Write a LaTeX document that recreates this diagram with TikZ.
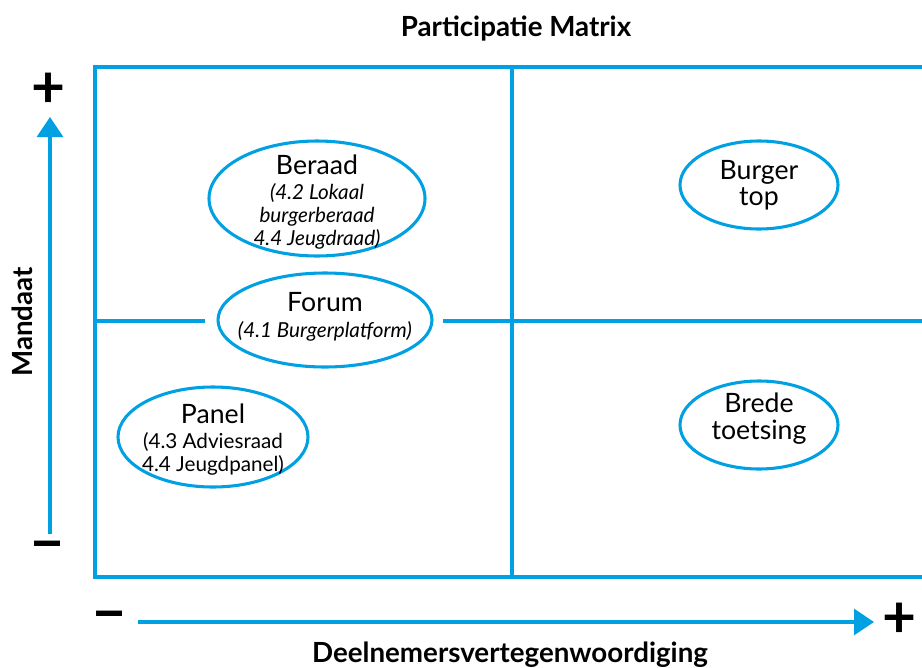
\documentclass[tikz,border=0pt]{standalone}
\usepackage{fontspec}
\setmainfont{Lato}
\usetikzlibrary{arrows.meta,shapes.geometric}
\definecolor{pblue}{RGB}{0,160,227}
\begin{document}
\begin{tikzpicture}[x=0.75pt,y=-0.75pt,
  gridline/.style={draw=pblue,line width=2.3pt},
  oval/.style={ellipse,draw=pblue,line width=2.3pt,fill=white,inner sep=0pt},
  ovaltext/.style={align=center,inner sep=0pt,font=\fontsize{15.5}{17.25}\selectfont},
  ovaltitle/.style={align=center,inner sep=0pt,font=\fontsize{20}{19.75}\selectfont},
  axislabel/.style={font=\bfseries\fontsize{20.8}{24}\selectfont},
  sign/.style={font=\bfseries\fontsize{44}{46}\selectfont,inner sep=0pt},
  axisarrow/.style={draw=pblue,line width=2.3pt,-{Triangle[width=19.5pt,length=15pt]}}]
\useasboundingbox (0,0) rectangle (922,668);
% frame
\coordinate (tr) at (922,67);
\coordinate (tl) at (95,67);
\coordinate (bl) at (95,577);
\coordinate (br) at (922,577);
\coordinate (vt) at (512,67);
\coordinate (vb) at (512,577);
\coordinate (hl) at (95,321);
\coordinate (hm1) at (205,321);
\coordinate (hm2) at (443,321);
\coordinate (hr) at (922,321);
\draw[gridline] (tr) -- (tl) -- (bl) -- (br);
\draw[gridline] (vt) -- (vb);
\draw[gridline] (hl) -- (hm1);
\draw[gridline] (hm2) -- (hr);
% title
\node[axislabel] (title) at (516,29) {Participatie Matrix};
% vertical axis
\coordinate (ya) at (50,534);
\coordinate (yb) at (50,117);
\draw[axisarrow] (ya) -- (yb);
\node[sign] (yplus) at (49,90) {+};
\node[sign] (yminus) at (48,552) {−};
\node[axislabel,rotate=90] (mandaat) at (22,322) {Mandaat};
% horizontal axis
\coordinate (xa) at (138,622);
\coordinate (xb) at (874,622);
\draw[axisarrow] (xa) -- (xb);
\node[sign] (xminus) at (110,622) {−};
\node[sign] (xplus) at (900,620) {+};
\node[axislabel] (deel) at (510,655) {Deelnemersvertegenwoordiging};
% ellipses
\node[oval,minimum width={216*0.75pt},minimum height={115*0.75pt}] (beraad) at (317,198.5) {};
\node[ovaltext] (beraadtxt) at (317,202) {{\fontsize{20}{20}\selectfont Beraad}\\[1pt]\itshape (4.2 Lokaal\\\itshape burgerberaad\\\itshape 4.4 Jeugdraad)};
\node[oval,minimum width={214*0.75pt},minimum height={94*0.75pt}] (forum) at (325,320) {};
\node[ovaltext] (forumtxt) at (325,317) {{\fontsize{20}{20}\selectfont Forum}\\[2pt]\itshape (4.1 Burgerplatform)};
\node[oval,minimum width={190*0.75pt},minimum height={100*0.75pt}] (panel) at (213,437) {};
\node[ovaltext] (paneltxt) at (213,439.5) {{\fontsize{20}{20}\selectfont Panel}\\[1pt](4.3 Adviesraad\\4.4 Jeugdpanel)};
\node[oval,minimum width={158*0.75pt},minimum height={88*0.75pt}] (burger) at (759,185) {};
\node[ovaltitle] (burgertxt) at (759,185) {Burger\\top};
\node[oval,minimum width={158*0.75pt},minimum height={88*0.75pt}] (brede) at (759,425) {};
\node[ovaltitle] (bredetxt) at (759,419) {Brede\\[0.5pt]toetsing};
\end{tikzpicture}
\end{document}
